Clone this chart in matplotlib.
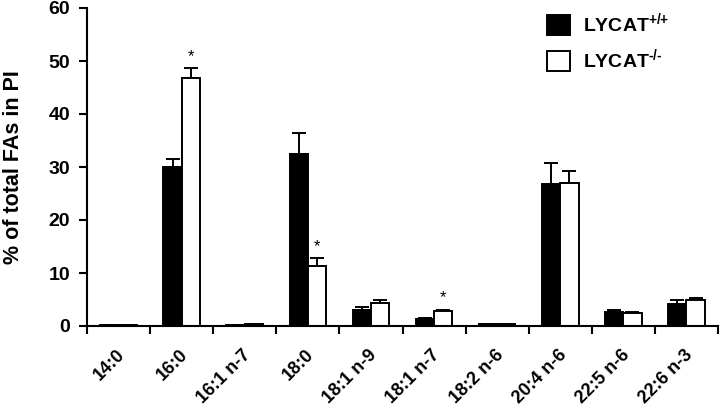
import matplotlib
matplotlib.use("Agg")
import matplotlib.pyplot as plt
import numpy as np

plt.rcParams['font.family'] = ['Liberation Sans', 'DejaVu Sans']
plt.rcParams['font.weight'] = 'bold'
plt.rcParams['mathtext.fontset'] = 'custom'
plt.rcParams['mathtext.rm'] = 'Liberation Sans:bold'
plt.rcParams['mathtext.bf'] = 'Liberation Sans:bold'

categories = ["14:0", "16:0", "16:1 n-7", "18:0", "18:1 n-9", "18:1 n-7",
              "18:2 n-6", "20:4 n-6", "22:5 n-6", "22:6 n-3"]
wt_vals = [0.2, 30.0, 0.2, 32.4, 3.0, 1.4, 0.3, 26.8, 2.7, 4.2]
wt_err = [0.05, 1.5, 0.05, 4.0, 0.6, 0.2, 0.05, 3.9, 0.3, 0.8]
ko_vals = [0.2, 46.8, 0.3, 11.3, 4.4, 2.8, 0.3, 26.9, 2.5, 5.0]
ko_err = [0.05, 1.9, 0.05, 1.5, 0.5, 0.3, 0.05, 2.4, 0.15, 0.3]
significant = [False, True, False, True, False, True, False, False, False, False]

fig = plt.figure(figsize=(7.21, 4.08), dpi=100)
ax = fig.add_axes([87/721, 1-326/408, (718-87)/721, (326-8)/408])

x = np.arange(len(categories))
w = 0.29
ax.bar(x - w/2, wt_vals, w, color='black', edgecolor='black', linewidth=1.4,
       label=r'LYCAT$^{\text{+/+}}$', zorder=2)
ax.bar(x + w/2, ko_vals, w, color='white', edgecolor='black', linewidth=1.4,
       label=r'LYCAT$^{\text{-/-}}$', zorder=2)
ax.errorbar(x - w/2, wt_vals, yerr=[np.zeros(len(x)), wt_err], fmt='none',
            ecolor='black', elinewidth=1.4, capsize=5, capthick=1.4, zorder=1)
ax.errorbar(x + w/2, ko_vals, yerr=[np.zeros(len(x)), ko_err], fmt='none',
            ecolor='black', elinewidth=1.4, capsize=5, capthick=1.4, zorder=1)
for i, s in enumerate(significant):
    if s:
        ax.text(x[i] + w/2, ko_vals[i] + ko_err[i] + 0.8, '*', ha='center',
                va='bottom', fontsize=12, fontweight='normal')

ax.set_xlim(-0.5, len(categories) - 0.5)
ax.set_ylim(0, 60)
ax.set_yticks([0, 10, 20, 30, 40, 50, 60])
ax.tick_params(axis='y', labelsize=14, width=1.5, length=6, direction='out', pad=6)
ax.set_xticks(np.arange(len(categories) + 1) - 0.5)
ax.set_xticklabels([])
ax.tick_params(axis='x', width=1.5, length=6, direction='out')
for i, c in enumerate(categories):
    ax.text(x[i] - 0.04, -3.9, c, rotation=45, ha='right', va='top',
            rotation_mode='anchor', fontsize=13, fontweight='bold')

ax.set_ylabel('% of total FAs in PI', fontsize=15.5, fontweight='bold')
ax.yaxis.set_label_coords(-(87 - 24) / 631, 0.5)
for sp in ['top', 'right']:
    ax.spines[sp].set_visible(False)
for sp in ['left', 'bottom']:
    ax.spines[sp].set_linewidth(1.5)

leg = ax.legend(loc='upper left', bbox_to_anchor=((547 - 87) / 631, (326 - 11) / 318),
                frameon=False, fontsize=14, handlelength=1.2, handleheight=1.2,
                handletextpad=0.65, labelspacing=0.6, borderpad=0, borderaxespad=0)
for t in leg.get_texts():
    t.set_fontweight('bold')

fig.savefig('out.png', dpi=100)
